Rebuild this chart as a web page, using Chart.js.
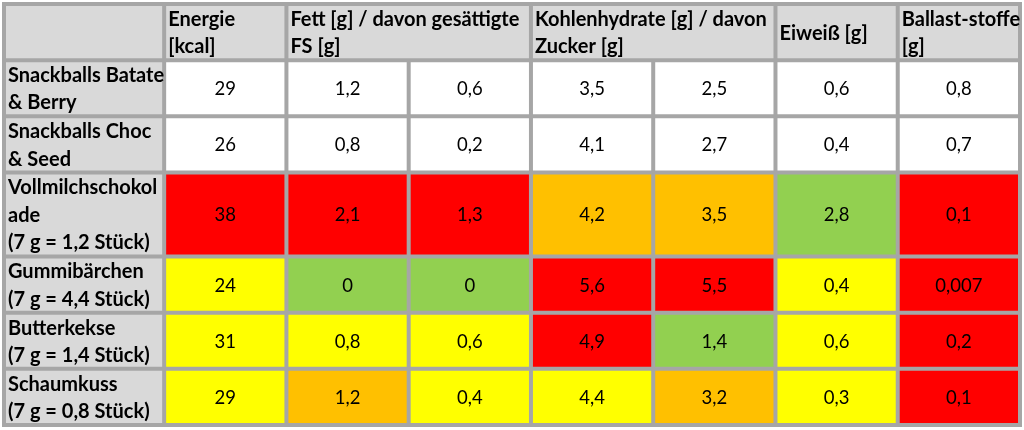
<!DOCTYPE html>
<html><head><meta charset="utf-8">
<script src="https://cdn.jsdelivr.net/npm/chart.js@4/dist/chart.umd.min.js"></script>
<style>html,body{margin:0;padding:0;background:#fff}canvas{display:block}</style>
</head><body>
<canvas id="c" width="1024" height="430"></canvas>
<script>
// ---- data ----
const rowLabels = [
  ["Snackballs Batate", "& Berry"],
  ["Snackballs Choc", "& Seed"],
  ["Vollmilchschokol", "ade", "(7 g = 1,2 Stück)"],
  ["Gummibärchen", "(7 g = 4,4 Stück)"],
  ["Butterkekse", "(7 g = 1,4 Stück)"],
  ["Schaumkuss", "(7 g = 0,8 Stück)"]
];
const columnHeaders = [
  ["Energie", "[kcal]"],
  ["Fett [g] / davon gesättigte", "FS [g]"],
  ["Kohlenhydrate [g] / davon", "Zucker [g]"],
  ["Eiweiß [g]"],
  ["Ballast-stoffe", "[g]"]
];
const headerSpans = [1, 2, 2, 1, 1];
const energie       = [29, 26, 38, 24, 31, 29];
const fett          = [1.2, 0.8, 2.1, 0, 0.8, 1.2];
const gesaettigteFS = [0.6, 0.2, 1.3, 0, 0.6, 0.4];
const kohlenhydrate = [3.5, 4.1, 4.2, 5.6, 4.9, 4.4];
const zucker        = [2.5, 2.7, 3.5, 5.5, 1.4, 3.2];
const eiweiss       = [0.6, 0.4, 2.8, 0.4, 0.6, 0.3];
const ballaststoffe = [0.8, 0.7, 0.1, 0.007, 0.2, 0.1];
// rating per cell: w = none, g = green, y = yellow, o = orange, r = red
const ratings = [
  ["w","w","w","w","w","w","w"],
  ["w","w","w","w","w","w","w"],
  ["r","r","r","o","o","g","r"],
  ["y","g","g","r","r","y","r"],
  ["y","y","y","r","g","y","r"],
  ["y","o","y","y","o","y","r"]
];

// ---- styling / layout ----
const ratingColors = { w: "#ffffff", g: "#92d050", y: "#ffff00", o: "#ffc000", r: "#ff0000" };
const headerBg = "#d9d9d9";
const gridColor = "#a6a6a6";
const labelColumnUnits = 1.31;
const headerLines = 2;
const FONT = "Lato, 'Open Sans', sans-serif";

const valueColumns = [energie, fett, gesaettigteFS, kohlenhydrate, zucker, eiweiss, ballaststoffe];
const nCols = valueColumns.length;
const rowSpans = rowLabels.map(l => Math.max(2, l.length));
const totalLines = headerLines + rowSpans.reduce((a, b) => a + b, 0);
const colStarts = [0, labelColumnUnits];
for (let i = 1; i <= nCols; i++) colStarts.push(labelColumnUnits + i);
const rowStarts = [0, headerLines];
rowSpans.forEach(s => rowStarts.push(rowStarts[rowStarts.length - 1] + s));
const fmt = v => String(v).replace('.', ',');

const tablePlugin = {
  id: 'table',
  afterDraw(chart) {
    const ctx = chart.ctx;
    const xs = chart.scales.x, ys = chart.scales.y;
    const X = u => xs.getPixelForValue(u);
    const Y = u => ys.getPixelForValue(u);
    const lineH = Math.abs(Y(1) - Y(0)) * 0.98;
    ctx.save();
    const rect = (c0, c1, r0, r1, color) => {
      ctx.fillStyle = color;
      ctx.fillRect(X(c0), Y(r0), X(c1) - X(c0), Y(r1) - Y(r0));
    };
    const text = (lines, x, y0, y1, align, bold) => {
      ctx.font = bold ? ("bold 20px " + FONT) : ("18.5px " + FONT);
      ctx.fillStyle = "#000";
      ctx.textAlign = align;
      ctx.textBaseline = "middle";
      const mid = (y0 + y1) / 2 + 1;
      lines.forEach((t, i) => {
        ctx.fillText(t, x, mid + (i - (lines.length - 1) / 2) * lineH);
      });
    };
    // header row
    rect(colStarts[0], colStarts[colStarts.length - 1], 0, headerLines, headerBg);
    // row label column
    rect(colStarts[0], colStarts[1], headerLines, totalLines, headerBg);
    // value cells
    for (let r = 0; r < rowLabels.length; r++) {
      for (let c = 0; c < nCols; c++) {
        rect(colStarts[c + 1], colStarts[c + 2], rowStarts[r + 1], rowStarts[r + 2], ratingColors[ratings[r][c]]);
      }
    }
    // grid lines
    ctx.strokeStyle = gridColor;
    ctx.lineWidth = 4;
    ctx.beginPath();
    rowStarts.forEach(r => { ctx.moveTo(X(0) - 2, Y(r)); ctx.lineTo(X(colStarts[colStarts.length - 1]) + 2, Y(r)); });
    const headerBounds = new Set([0, 1]);
    let ci = 1;
    headerSpans.forEach(s => { ci += s; headerBounds.add(ci); });
    colStarts.forEach((c, i) => {
      const top = headerBounds.has(i) ? 0 : headerLines;
      ctx.moveTo(X(c), Y(top) - (top === 0 ? 2 : 0));
      ctx.lineTo(X(c), Y(totalLines) + 2);
    });
    ctx.stroke();
    // header texts
    ci = 1;
    columnHeaders.forEach((h, i) => {
      text(h, X(colStarts[ci]) + 4, Y(0), Y(headerLines), "left", true);
      ci += headerSpans[i];
    });
    // row labels and values
    for (let r = 0; r < rowLabels.length; r++) {
      const y0 = Y(rowStarts[r + 1]), y1 = Y(rowStarts[r + 2]);
      text(rowLabels[r], X(0) + 4, y0, y1, "left", true);
      for (let c = 0; c < nCols; c++) {
        const cx = (X(colStarts[c + 1]) + X(colStarts[c + 2])) / 2;
        text([fmt(valueColumns[c][r])], cx, y0, y1, "center", false);
      }
    }
    ctx.restore();
  }
};

new Chart(document.getElementById('c'), {
  type: 'scatter',
  data: { datasets: [] },
  options: {
    responsive: false,
    animation: false,
    layout: { padding: { left: 4, right: 4, top: 4, bottom: 5 } },
    plugins: { legend: { display: false }, tooltip: { enabled: false } },
    scales: {
      x: { type: 'linear', display: false, offset: false, min: 0, max: colStarts[colStarts.length - 1] },
      y: { type: 'linear', display: false, offset: false, min: 0, max: totalLines, reverse: true }
    }
  },
  plugins: [tablePlugin]
});
</script>
</body></html>
